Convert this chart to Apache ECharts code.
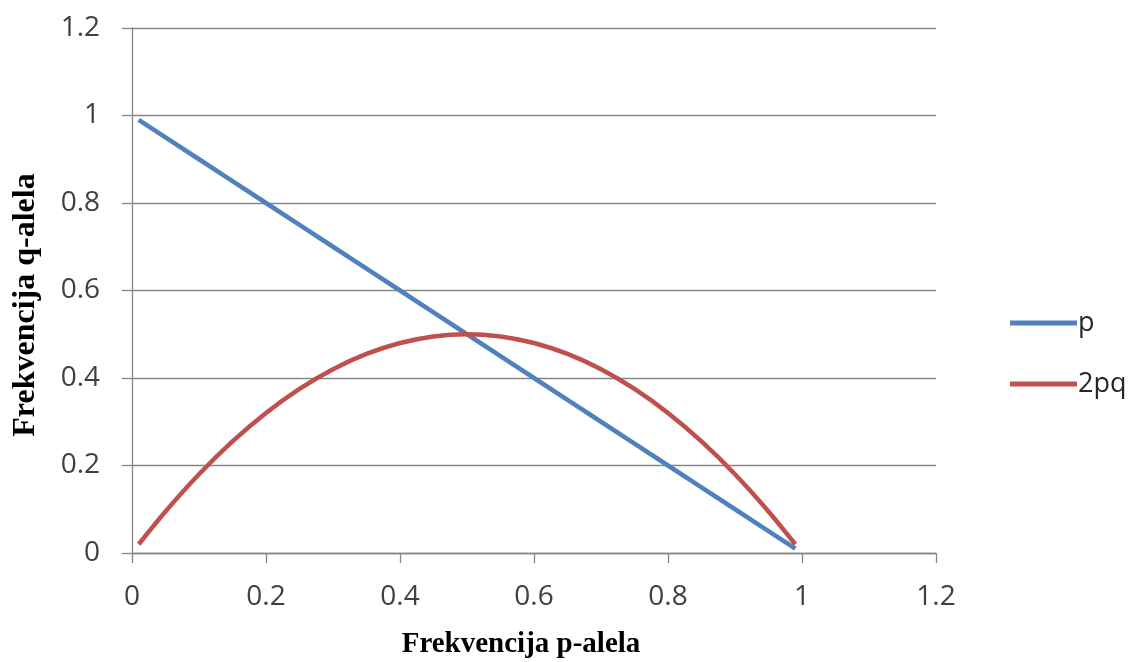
<!DOCTYPE html>
<html>
<head>
<meta charset="utf-8">
<script src="https://cdn.jsdelivr.net/npm/echarts@6/dist/echarts.min.js"></script>
<style>
html,body{margin:0;padding:0;background:#fff;}
#chart{width:1137px;height:662px;}
</style>
</head>
<body>
<div id="chart"></div>
<script>
// Values
var pValues    = [0.01, 0.05, 0.1, 0.15, 0.2, 0.25, 0.3, 0.35, 0.4, 0.45, 0.5, 0.55, 0.6, 0.65, 0.7, 0.75, 0.8, 0.85, 0.9, 0.95, 0.99];
var qValues    = [0.99, 0.95, 0.9, 0.85, 0.8, 0.75, 0.7, 0.65, 0.6, 0.55, 0.5, 0.45, 0.4, 0.35, 0.3, 0.25, 0.2, 0.15, 0.1, 0.05, 0.01];
var hetValues  = [0.02, 0.095, 0.18, 0.255, 0.32, 0.375, 0.42, 0.455, 0.48, 0.495, 0.5, 0.495, 0.48, 0.455, 0.42, 0.375, 0.32, 0.255, 0.18, 0.095, 0.02];
var tickLabels = ['0', '0.2', '0.4', '0.6', '0.8', '1', '1.2'];
var seriesNames = ['p', '2pq'];
var xTitle = 'Frekvencija p-alela';
var yTitle = 'Frekvencija q-alela';

function pairs(xs, ys) { return xs.map(function (x, i) { return [x, ys[i]]; }); }

var chart = echarts.init(document.getElementById('chart'), null, {renderer: 'canvas'});
var labelStyle = {fontFamily: 'Open Sans', fontSize: 28, color: '#404040'};
chart.setOption({
  animation: false,
  backgroundColor: '#ffffff',
  grid: {left: 132, right: 201, top: 28, bottom: 109, containLabel: false},
  xAxis: {
    type: 'value', min: 0, max: 1.2, interval: 0.2,
    axisLine: {show: true, lineStyle: {color: '#868686', width: 1.3}},
    axisTick: {show: true, length: 10, inside: false, lineStyle: {color: '#868686', width: 1.3}},
    splitLine: {show: false},
    axisLabel: Object.assign({margin: 30, formatter: function (v) { return tickLabels[Math.round(v / 0.2)]; }}, labelStyle)
  },
  yAxis: {
    type: 'value', min: 0, max: 1.2, interval: 0.2,
    axisLine: {show: true, lineStyle: {color: '#868686', width: 1.3}},
    axisTick: {show: true, length: 10, inside: false, lineStyle: {color: '#868686', width: 1.3}},
    splitLine: {show: true, lineStyle: {color: '#868686', width: 1.3}},
    axisLabel: Object.assign({margin: 32, formatter: function (v) { return tickLabels[Math.round(v / 0.2)]; }}, labelStyle)
  },
  legend: {
    orient: 'vertical', left: 1005, top: 302,
    icon: 'rect', itemWidth: 67, itemHeight: 5, itemGap: 29,
    textStyle: {fontFamily: 'Open Sans', fontSize: 27, color: '#262626', lineHeight: 32, padding: [0, 0, 0, -4]},
    data: seriesNames
  },
  series: [
    {name: seriesNames[0], type: 'line', data: pairs(pValues, qValues), showSymbol: false,
     color: '#4F81BD', lineStyle: {width: 4.5, color: '#4F81BD'}},
    {name: seriesNames[1], type: 'line', data: pairs(pValues, hetValues), smooth: 0.3, showSymbol: false,
     color: '#C0504D', lineStyle: {width: 4.5, color: '#C0504D'}}
  ],
  graphic: [
    {type: 'text', x: 521, y: 645, style: {text: xTitle, fontFamily: 'Liberation Serif', fontWeight: 'bold', fontSize: 29, fill: '#000', align: 'center', verticalAlign: 'middle'}},
    {type: 'text', x: 26, y: 305, rotation: Math.PI / 2, style: {text: yTitle, fontFamily: 'Liberation Serif', fontWeight: 'bold', fontSize: 32, fill: '#000', align: 'center', verticalAlign: 'middle'}}
  ]
});
</script>
</body>
</html>
